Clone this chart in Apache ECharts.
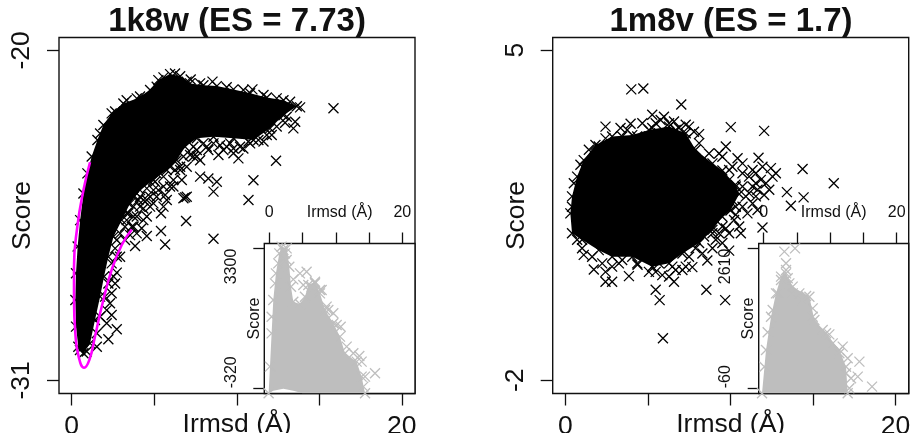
<!DOCTYPE html>
<html><head><meta charset="utf-8">
<script src="https://cdn.jsdelivr.net/npm/echarts@6/dist/echarts.min.js"></script>
<style>html,body{margin:0;padding:0;background:#fff}#c{width:912px;height:433px;filter:blur(0.55px)}</style>
</head><body><div id="c"></div>
<script>
const titles = ['1k8w (ES = 7.73)', '1m8v (ES = 1.7)'];
const xName = 'Irmsd (Å)', yName = 'Score';
const xTicks = [0, 5, 10, 15, 20], xLabels = [0, 20];
const yTicksA = [-31, -20], yTicksB = [-2, 5];
const insetTicksA = [-320, 3300], insetTicksB = [-60, 2610];

// dense core outlines (Irmsd, Score)
const coreA = [[.71,-30.10],[.40,-29.88],[.26,-29.21],[.22,-28.32],[.26,-27.43],[.36,-26.54],[.51,-25.66],[.71,-24.77],[.95,-24.10],[1.21,-23.54],[1.56,-22.99],[1.92,-22.49],[2.42,-22.10],[3.13,-21.77],[3.94,-21.60],[4.75,-21.32],[5.25,-20.99],[5.96,-20.79],[6.57,-20.86],[7.17,-21.10],[7.98,-21.16],[8.79,-21.19],[9.80,-21.30],[10.81,-21.43],[11.82,-21.57],[12.83,-21.66],[13.64,-21.86],[12.83,-22.16],[12.02,-22.60],[11.01,-22.99],[9.80,-22.93],[8.59,-22.88],[7.58,-22.93],[6.87,-23.21],[6.36,-23.66],[5.76,-23.99],[4.95,-24.32],[4.14,-24.66],[3.54,-25.10],[3.03,-25.66],[2.53,-26.21],[2.22,-26.88],[1.96,-27.54],[1.72,-28.21],[1.41,-28.99],[1.11,-29.77]];
const looseA = [[13.84,-21.90],[15.86,-21.93],[12.93,-22.41],[13.54,-22.38],[13.43,-22.60],[12.12,-22.82],[11.62,-23.04],[10.81,-23.10],[9.80,-23.27],[10.10,-23.60],[8.59,-23.10],[8.89,-23.49],[7.17,-23.49],[7.78,-23.66],[7.37,-23.54],[12.38,-23.68],[11.01,-24.33],[10.71,-24.99],[7.78,-24.21],[8.28,-24.27],[8.79,-24.38],[8.59,-24.71],[6.67,-24.32],[6.87,-24.90],[6.77,-24.93],[6.97,-24.88],[6.93,-25.69],[8.59,-26.28],[5.66,-26.47],[5.41,-26.02],[4.55,-26.19],[4.24,-25.93],[3.84,-26.52],[3.74,-25.54],[4.75,-25.21],[5.56,-25.21],[5.76,-24.99],[6.16,-24.32],[5.15,-24.88],[4.34,-24.99],[5.56,-24.54],[2.73,-27.41],[2.63,-27.77],[2.42,-28.10],[2.12,-28.66],[2.42,-28.82],[2.12,-29.10],[2.73,-29.30],[2.22,-29.63],[1.52,-29.43],[.5,-29.99],[7.21,-20.97],[8.53,-21.04],[10.95,-21.30],[3.33,-25.43],[3.23,-26.32],[2.93,-26.88],[9.39,-23.21],[10.4,-23.27],[8.18,-23.21],[6.57,-23.99],[5.96,-24.54],[4.95,-24.66],[4.14,-25.21],[4.55,-25.54],[5.41,-25.43],[3.64,-25.88],[3.94,-26.1],
 [7.37,-23.21],[7.98,-23.10],[8.99,-23.16],[9.60,-23.10],[10.20,-23.21],[10.71,-23.04],[11.31,-22.99],[11.82,-22.82],[12.42,-22.54],[13.03,-22.21],[7.58,-23.32],[6.77,-23.54],[6.97,-23.88],[6.26,-23.99],[5.56,-24.21],[5.96,-23.88],[5.05,-24.38],[4.55,-24.60],[5.25,-24.66],[4.75,-24.88],[4.14,-24.88],[3.74,-25.21],[4.34,-25.27],[3.94,-25.54],[3.43,-25.43],[4.34,-25.66],[3.23,-25.88],[3.54,-26.16],[2.93,-26.10],[2.63,-26.60],[2.42,-27.10],[2.22,-27.77],[2.02,-28.21],[1.72,-28.88],[2.32,-28.43],[1.52,-29.88],[.91,-30.04],
 [1.72,-22.77],[2.63,-22.04],[3.33,-21.66],[4.14,-21.54],[5.15,-21.21],[5.56,-20.90],[6.26,-20.77],[6.97,-21.04],[7.78,-21.10],[9.39,-21.23],[10.40,-21.32],[11.62,-21.49],[12.42,-21.60],[13.23,-21.71],
 [5.15,-24.10],[4.65,-24.32],[4.04,-24.99],[3.74,-24.88],[3.43,-25.10],[4.55,-24.99],[4.95,-25.10],[3.33,-25.66],[3.74,-25.88],[5.66,-24.82],[6.16,-24.54],[6.57,-23.88],[7.58,-23.54],[8.28,-23.32],[9.19,-23.32],[9.80,-23.43],[2.73,-26.88],[2.73,-26.32],[2.53,-27.54]];
const ellipseA = [[1.11,-23.73],[.71,-24.66],[.34,-25.88],[.14,-27.21],[.14,-28.32],[.22,-29.43],[.42,-30.21],[.75,-30.58],[1.07,-30.32],[1.41,-29.54],[1.82,-28.54],[2.42,-27.32],[3.03,-26.49],[3.64,-25.97]];

const coreB = [[.40,1.12],[.30,1.54],[.40,1.90],[.71,2.32],[1.11,2.67],[1.82,2.99],[2.83,3.17],[4.05,3.20],[5.06,3.31],[6.28,3.38],[7.29,3.24],[7.89,2.89],[8.91,2.60],[9.51,2.45],[10.3,2.15],[10.53,1.95],[10.0,1.6],[9.51,1.47],[8.91,1.19],[8.10,.91],[7.09,.69],[6.28,.48],[5.26,.41],[4.05,.62],[2.83,.62],[2.02,.76],[1.01,.98]];
const looseB = [[3.99,4.17],[4.72,4.19],[7.02,3.85],[5.26,3.63],[5.77,3.52],[2.43,3.38],[3.34,3.35],[3.95,3.44],[5.06,3.17],[6.28,3.45],[7.49,3.38],[8.10,3.22],[6.68,3.31],[10.02,3.37],[12.04,3.29],[9.72,2.96],[10.43,2.71],[9.31,2.81],[11.70,2.72],[12.45,2.50],[12.75,2.39],[11.54,2.39],[12.15,2.18],[12.35,2.04],[11.34,2.11],[14.37,2.48],[16.26,2.18],[13.42,1.99],[14.43,1.88],[13.66,1.70],[11.64,1.61],[11.03,1.54],[11.94,1.24],[10.32,1.51],[9.72,1.22],[10.63,1.12],[8.91,1.12],[9.92,.75],[8.60,.54],[7.69,.40],[6.58,.09],[5.87,.23],[5.26,.41],[5.47,-.08],[5.71,-.30],[5.91,-1.11],[8.54,-.08],[9.68,-.30],[3.85,.21],[4.37,.45],[2.83,.09],[2.43,.09],[2.43,.30],[1.72,.35],[1.11,.66],[3.24,.48],[6.48,.41],[7.89,.80],[9.51,.91],[5.47,.30],[7.09,.34],
 [4.66,3.45],[5.26,3.35],[5.67,3.24],[6.28,3.24],[6.88,3.35],[5.47,3.45],[5.97,3.59],[6.58,3.49],[7.29,3.42],[7.79,3.27],[7.29,3.10],[8.10,3.03],[8.70,2.81],[9.51,2.74],[10.12,2.53],[10.73,2.60],[11.34,2.46],[11.94,2.53],[12.55,2.32],[11.84,2.25],[11.13,2.32],[11.64,2.04],[10.93,1.90],[12.04,1.93],[11.34,1.75],[10.73,1.68],[10.22,1.40],[9.51,1.26],[9.92,1.12],[9.11,.98],[8.91,.80],[8.30,.69],[7.49,.62],[7.29,.41],[6.68,.34],[6.28,.20],[5.67,.48],[5.06,.30],[4.35,.48],[3.44,.55],[2.83,.41],[2.23,.48],[1.62,.62],[1.01,.80],[.71,.98],[2.02,2.96],[1.42,2.89],[.91,2.57],[.51,2.18],[.40,1.68],[2.43,3.13],[3.44,3.17],[4.35,3.17],[3.74,3.31],
 [9.11,2.25],[9.51,2.11],[9.92,2.25],[10.32,2.11],[10.73,2.11],[10.12,1.82],[9.51,1.68],[10.73,2.39],[9.92,2.46],[11.13,1.97],[11.54,1.90],[10.32,1.68],[9.11,1.54],[8.70,1.33],[9.31,1.12],[8.40,1.05],[11.54,2.18],[10.53,1.26]];

const insetCoreA = [[-.10,-450],[.10,241],[.35,1105],[.60,1969],[1.00,2661],[1.50,3179],[1.85,3352],[2.61,3309],[3.01,2833],[3.26,2315],[3.61,1926],[4.61,1866],[5.36,2056],[5.86,2358],[6.87,2445],[7.62,2142],[8.37,1710],[9.62,1365],[10.63,1019],[11.38,587],[13.13,371],[13.88,-18],[14.39,-450]];
const insetNotchA = [[5.0,-450],[3.61,-381],[2.11,-329],[.60,-381]];
const insetLooseA = [[4.61,2661],[5.61,2704],[3.61,2505],[5.11,2358],[6.87,2402],[7.87,2229],[8.62,1797],[10.73,1278],[13.53,518],[15.89,69],[2.36,3179],[2.11,3265],
 [9.62,1624],[7.62,2229],[8.87,1710],[10.13,1321],[11.63,760],[12.63,587],[13.88,371],[14.39,-18],[14.14,-277],[6.37,2315],[2.61,3006],[1.35,2920],[.85,2401],[.35,1537]];
const insetCoreB = [[-.25,-155],[.35,673],[1.10,1310],[1.85,1756],[2.61,2075],[3.36,2138],[4.36,1884],[6.87,1692],[7.62,1246],[9.37,992],[11.38,673],[12.38,354],[12.63,-155]];
const insetLooseB = [[4.71,2616],[3.11,2553],[3.36,2330],[3.36,2202],[3.61,2043],[2.11,1756],[6.37,1705],[7.37,1469],[9.87,972],[11.88,737],[14.39,450],[12.63,514],[14.14,163],[13.13,131],[16.29,-28],[12.88,-60],
 [3.86,1947],[5.36,1756],[5.86,1629],[7.37,1310],[8.87,1055],[10.38,800],[11.38,609],[12.38,227],[1.35,1438],[.6,1011],[.1,354],[2.61,2011],[4.36,1756]];

const FONT = '"Liberation Sans", Arial, sans-serif';
const INK = '#111';
const CROSS = 'path://M0,0L10,10M10,0L0,10';
const mainFont = 26.5, insetFont = 16;
const plain = v => String(v);
const noLine = {show:false,onZero:false};

function blob(core, color, xi, yi) {
  return { type:'custom', xAxisIndex:xi, yAxisIndex:yi, clip:true, silent:true, data:core,
    renderItem(p, api) {
      if (p.dataIndex !== 0) return;
      return { type:'polygon', shape:{ points: core.map(d => api.coord(d)) }, style:{ fill:color } };
    } };
}
function cross(points, color, xi, yi) {
  return { type:'scatter', xAxisIndex:xi, yAxisIndex:yi, clip:true, silent:true, data:points,
    symbol:CROSS, symbolSize:10, itemStyle:{ color:'none', borderColor:color, borderWidth:1.3, opacity:1 } };
}
const grids = [
  {left:59,top:37.5,width:356,height:356},
  {left:264.3,top:243.5,width:150.7,height:150},
  {left:552.7,top:37.5,width:356,height:356},
  {left:758.7,top:243.5,width:150,height:150}
].map(g => Object.assign(g,{show:true,backgroundColor:'#fff',borderColor:INK,borderWidth:1.4,containLabel:false,outerBoundsMode:'none'}));

function xMain(gi){ return {type:'value',gridIndex:gi,min:-.77,max:20.8,position:'bottom',
  name:xName,nameLocation:'middle',nameGap:18,nameMoveOverlap:false,nameTextStyle:{fontFamily:FONT,fontSize:mainFont,color:INK},
  splitLine:{show:false},axisLine:noLine,
  axisTick:{show:true,length:12,customValues:xTicks,lineStyle:{color:INK,width:1.3}},
  axisLabel:{show:true,customValues:xLabels,margin:20,formatter:plain,fontFamily:FONT,fontSize:mainFont,color:INK,showMinLabel:true,showMaxLabel:true}}; }
function yMain(gi,min,max,vals){ return {type:'value',gridIndex:gi,min,max,position:'left',
  name:yName,nameLocation:'middle',nameGap:23,nameMoveOverlap:false,nameTextStyle:{fontFamily:FONT,fontSize:mainFont,color:INK},
  splitLine:{show:false},axisLine:noLine,
  axisTick:{show:true,length:12,customValues:vals,lineStyle:{color:INK,width:1.3}},
  axisLabel:{show:true,customValues:vals,rotate:90,margin:24,formatter:plain,fontFamily:FONT,fontSize:mainFont,color:INK,showMinLabel:true,showMaxLabel:true,align:'center'}}; }
function xInset(gi,max){ return {type:'value',gridIndex:gi,min:-.75,max,position:'top',
  name:xName,nameLocation:'middle',nameGap:23,nameMoveOverlap:false,nameTextStyle:{fontFamily:FONT,fontSize:insetFont,color:INK},
  splitLine:{show:false},axisLine:noLine,
  axisTick:{show:true,length:11,customValues:xTicks,lineStyle:{color:INK,width:1.3}},
  axisLabel:{show:true,customValues:xLabels,margin:23,formatter:plain,fontFamily:FONT,fontSize:insetFont,color:INK,showMinLabel:true,showMaxLabel:true}}; }
function yInset(gi,min,max,vals){ return [
  {type:'value',gridIndex:gi,min,max,position:'left',
   name:yName,nameLocation:'middle',nameGap:2,nameMoveOverlap:false,nameTextStyle:{fontFamily:FONT,fontSize:insetFont,color:INK},
   splitLine:{show:false},axisLine:noLine,
   axisTick:{show:true,length:11,customValues:vals,lineStyle:{color:INK,width:1.3}},
   axisLabel:{show:true,customValues:[vals[1]],rotate:90,align:'right',margin:25,formatter:plain,fontFamily:FONT,fontSize:insetFont,color:INK,showMaxLabel:true}},
  {type:'value',gridIndex:gi,min,max,position:'left',
   splitLine:{show:false},axisLine:noLine,axisTick:{show:false},
   axisLabel:{show:true,customValues:[vals[0]],rotate:90,align:'left',margin:25,formatter:plain,fontFamily:FONT,fontSize:insetFont,color:INK,showMinLabel:true}}
]; }

const option = {
  animation:false, backgroundColor:'#fff',
  title: titles.map((t,i)=>({text:t,left:i?726:232,top:0,textAlign:'center',
    textStyle:{fontFamily:FONT,fontSize:33,fontWeight:'bold',color:INK}})),
  grid:grids,
  xAxis:[xMain(0),xInset(1,21.9),xMain(2),xInset(3,21.8)],
  yAxis:[yMain(0,-31.44,-19.57,yTicksA),...yInset(1,-455,3435,insetTicksA),
         yMain(2,-2.28,5.27,yTicksB),...yInset(3,-159,2709,insetTicksB)],
  series:[
    blob(coreA,'#000',0,0), cross(coreA,'#000',0,0), cross(looseA,'#000',0,0),
    {type:'line',xAxisIndex:0,yAxisIndex:0,data:ellipseA,smooth:.5,symbol:'none',silent:true,z:5,
     lineStyle:{color:'#ff00ff',width:2.6}},
    blob(insetCoreA.concat(insetNotchA),'#bebebe',1,1), cross(insetCoreA,'#bebebe',1,1), cross(insetLooseA,'#bebebe',1,1),
    blob(coreB,'#000',2,3), cross(coreB,'#000',2,3), cross(looseB,'#000',2,3),
    blob(insetCoreB,'#bebebe',3,4), cross(insetCoreB,'#bebebe',3,4), cross(insetLooseB,'#bebebe',3,4)
  ]
};
const chart = echarts.init(document.getElementById('c'),null,{renderer:'canvas'});
chart.setOption(option);
</script></body></html>
